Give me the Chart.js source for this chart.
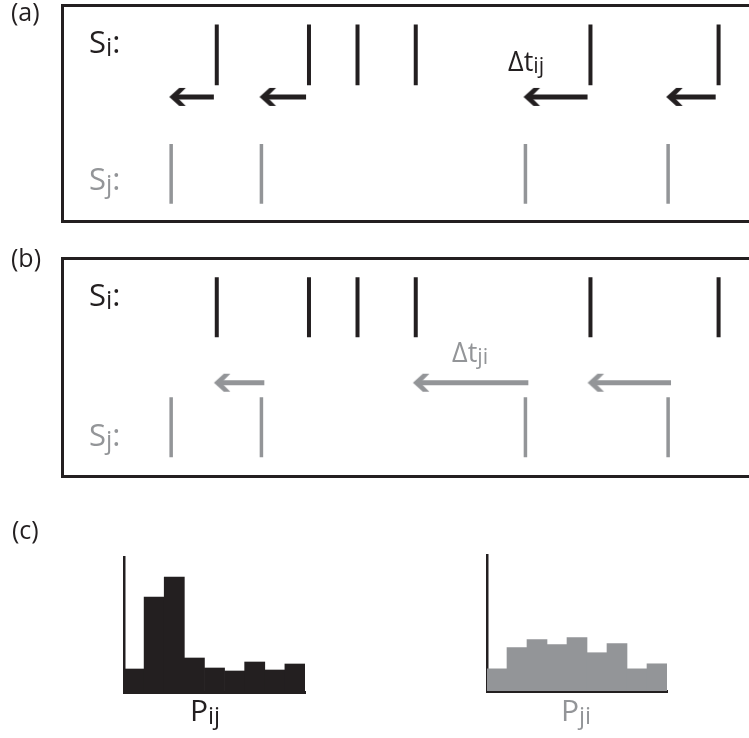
<!DOCTYPE html>
<html>
<head>
<meta charset="utf-8">
<title>Spike train delays</title>
<script src="https://cdn.jsdelivr.net/npm/chart.js@4.4.1/dist/chart.umd.min.js"></script>
<style>
    html, body { margin: 0; padding: 0; background: #fff; }
    body {
        width: 749px; height: 738px; position: relative; overflow: hidden;
        font-family: "Open Sans", "Noto Sans", sans-serif; color: #231f20;
    }
    .box { position: absolute; left: 61px; width: 720px; border: 3px solid #231f20; box-sizing: border-box; }
    canvas { position: absolute; }
    .lbl { position: absolute; white-space: nowrap; line-height: 0; }
    .lbl sub { font-size: 0.8em; line-height: 0; vertical-align: baseline; position: relative; top: 0.11em; }
    .grey { color: #939598; }
</style>
</head>
<body>
    <div class="box" style="top:4px; height:219px;"></div>
    <div class="box" style="top:257px; height:221px;"></div>

    <canvas id="rasterA" width="749" height="230" style="left:0; top:0;"></canvas>
    <canvas id="rasterB" width="749" height="240" style="left:0; top:240px;"></canvas>
    <canvas id="histIJ" width="192" height="146" style="left:118px; top:551px;"></canvas>
    <canvas id="histJI" width="191" height="147" style="left:481px; top:549px;"></canvas>

    <div class="lbl" style="left:11px; top:11px; font-size:25px;">(a)</div>
    <div class="lbl" style="left:11px; top:257px; font-size:25px;">(b)</div>
    <div class="lbl" style="left:12px; top:529px; font-size:25px;">(c)</div>

    <div class="lbl" style="left:89px; top:41px; font-size:31px;">S<sub>i</sub>:</div>
    <div class="lbl grey" style="left:89px; top:178px; font-size:31px;">S<sub>j</sub>:</div>
    <div class="lbl" style="left:89px; top:294px; font-size:31px;">S<sub>i</sub>:</div>
    <div class="lbl grey" style="left:89px; top:434px; font-size:31px;">S<sub>j</sub>:</div>

    <div class="lbl" style="left:508px; top:61px; font-size:27px;">&Delta;t<sub>ij</sub></div>
    <div class="lbl grey" style="left:452px; top:352px; font-size:27px;">&Delta;t<sub>ji</sub></div>

    <div class="lbl" style="left:190px; top:710px; font-size:30px;">P<sub>ij</sub></div>
    <div class="lbl grey" style="left:561px; top:710px; font-size:30px;">P<sub>ji</sub></div>

<script>
// spike times of neuron i (black) and neuron j (grey)
const SI_TIMES = [212, 307, 357, 417, 597, 729];
const SJ_TIMES = [165, 258, 530, 677];
const T_MIN = 0;
const T_MAX = 749;

// delay histograms (c)
const HIST_BINS = ['1', '2', '3', '4', '5', '6', '7', '8', '9'];
const PIJ_COUNTS = [23, 95, 115, 34, 24, 21, 30, 22, 28];
const PJI_COUNTS = [22, 43, 51, 46, 53, 38, 47, 22, 27];
const HIST_MAX = 135;

const BLACK = '#231f20';
const GREY = '#939598';

// row layout of each raster canvas (local y, top down)
const ROWS_A = { h: 230, si: [15, 82], arrow: 95, sj: [147, 213] };
const ROWS_B = { h: 240, si: [29, 95], arrow: 145, sj: [161, 227] };

// vertical ticks, split with null points so one dataset holds all spikes
function spikeSegments(times, y0, y1) {
    return times.flatMap(t => [{ x: t, y: y0 }, { x: t, y: y1 }, { x: t, y: null }]);
}

function arrowSegments(pairs, y) {
    return pairs.flatMap(p => [{ x: p.from, y: y }, { x: p.to + 4, y: y }, { x: p.to, y: null }]);
}

// chevron arrow head, tip sits at the canvas centre
function makeHead(color) {
    const c = document.createElement('canvas');
    c.width = 40;
    c.height = 22;
    const ctx = c.getContext('2d');
    ctx.translate(20, 11);
    ctx.fillStyle = color;
    ctx.beginPath();
    ctx.moveTo(0, 0);
    ctx.lineTo(10, -9);
    ctx.lineTo(16.5, -9);
    ctx.lineTo(7.5, 0);
    ctx.lineTo(16.5, 9);
    ctx.lineTo(10, 9);
    ctx.closePath();
    ctx.fill();
    return c;
}

// (a): each j spike -> first i spike after it, arrow from i back to j
const pairsA = SJ_TIMES.map(tj => {
    const ti = SI_TIMES.find(t => t > tj);
    return ti === undefined ? null : { from: ti - 3, to: tj - 2 };
}).filter(Boolean);

// (b): each j spike -> last i spike before it, arrow from j back to i
const pairsB = SJ_TIMES.map(tj => {
    const before = SI_TIMES.filter(t => t < tj);
    return before.length ? { from: tj + 3, to: before[before.length - 1] - 3 } : null;
}).filter(Boolean);

const baseOptions = {
    responsive: false,
    animation: false,
    events: [],
    plugins: { legend: { display: false }, tooltip: { enabled: false } }
};

function rasterChart(id, rows, pairs, arrowColor) {
    return new Chart(document.getElementById(id), {
        type: 'scatter',
        data: {
            datasets: [
                {
                    data: spikeSegments(SI_TIMES, rows.si[0], rows.si[1]),
                    showLine: true, spanGaps: false,
                    borderColor: BLACK, borderWidth: 4, borderCapStyle: 'butt',
                    pointRadius: 0
                },
                {
                    data: spikeSegments(SJ_TIMES, rows.sj[0], rows.sj[1]),
                    showLine: true, spanGaps: false,
                    borderColor: GREY, borderWidth: 3.5, borderCapStyle: 'butt',
                    pointRadius: 0
                },
                {
                    data: arrowSegments(pairs, rows.arrow),
                    showLine: true, spanGaps: false,
                    borderColor: arrowColor, borderWidth: 5, borderCapStyle: 'butt',
                    pointRadius: 0
                },
                {
                    data: pairs.map(p => ({ x: p.to, y: rows.arrow })),
                    showLine: false,
                    pointStyle: makeHead(arrowColor),
                    pointRadius: 10
                }
            ]
        },
        options: {
            ...baseOptions,
            layout: { padding: 0 },
            clip: false,
            scales: {
                x: { type: 'linear', display: false, min: T_MIN, max: T_MAX },
                y: { type: 'linear', display: false, min: 0, max: rows.h, reverse: true }
            }
        }
    });
}

function histChart(id, counts, color) {
    return new Chart(document.getElementById(id), {
        type: 'bar',
        data: {
            labels: HIST_BINS,
            datasets: [{
                data: counts,
                backgroundColor: color,
                borderWidth: 0,
                barPercentage: 1,
                categoryPercentage: 1
            }]
        },
        options: {
            ...baseOptions,
            layout: { padding: { left: 6, right: 5, top: 6, bottom: 5 } },
            scales: {
                x: {
                    z: 1,
                    grid: { display: false, drawTicks: false },
                    ticks: { display: false },
                    border: { display: true, color: BLACK, width: 3 }
                },
                y: {
                    z: 1,
                    min: 0, max: HIST_MAX,
                    grid: { display: false, drawTicks: false },
                    ticks: { display: false },
                    border: { display: true, color: BLACK, width: 2.5 }
                }
            }
        }
    });
}

rasterChart('rasterA', ROWS_A, pairsA, BLACK);
rasterChart('rasterB', ROWS_B, pairsB, GREY);
histChart('histIJ', PIJ_COUNTS, BLACK);
histChart('histJI', PJI_COUNTS, GREY);
</script>
</body>
</html>
